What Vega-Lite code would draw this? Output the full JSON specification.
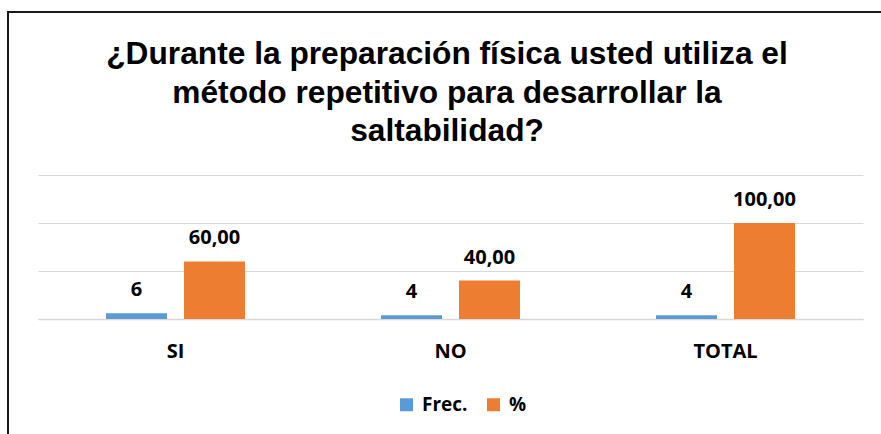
{
  "$schema": "https://vega.github.io/schema/vega-lite/v6.json",
  "autosize": {"type": "none"},
  "padding": {"left": 8, "top": 12, "right": 0, "bottom": 0},
  "width": 878,
  "height": 440,
  "background": "white",
  "title": {
    "text": ["¿Durante la preparación física usted utiliza el", "método repetitivo para desarrollar la", "saltabilidad?"],
    "anchor": "middle",
    "frame": "group",
    "offset": -136,
    "font": "Liberation Sans",
    "fontSize": 31.7,
    "fontWeight": "bold",
    "color": "#000000",
    "lineHeight": 38.5
  },
  "data": {
    "values": [
      {"categoria": "SI", "serie": "Frec.", "valor": 6},
      {"categoria": "SI", "serie": "%", "valor": 60},
      {"categoria": "NO", "serie": "Frec.", "valor": 4},
      {"categoria": "NO", "serie": "%", "valor": 40},
      {"categoria": "TOTAL", "serie": "Frec.", "valor": 4},
      {"categoria": "TOTAL", "serie": "%", "valor": 100}
    ]
  },
  "encoding": {
    "x": {
      "field": "categoria",
      "type": "nominal",
      "sort": ["SI", "NO", "TOTAL"],
      "scale": {"type": "band", "range": [30, 855], "paddingInner": 0, "paddingOuter": 0},
      "axis": {
        "title": null,
        "orient": "bottom",
        "offset": -133,
        "labelAngle": 0,
        "labelFont": "Open Sans",
        "labelFontSize": 20,
        "labelFontWeight": "bold",
        "labelColor": "#000000",
        "labelPadding": 22,
        "ticks": false,
        "domain": true,
        "domainColor": "#D9D9D9",
        "domainWidth": 1.5,
        "grid": false
      }
    },
    "xOffset": {
      "field": "serie",
      "type": "nominal",
      "sort": ["Frec.", "%"],
      "scale": {"domain": ["Frec.", "%"], "paddingInner": 0.218, "paddingOuter": 0.872}
    },
    "y": {
      "field": "valor",
      "type": "quantitative",
      "scale": {"domain": [0, 150], "range": [307, 163], "nice": false, "zero": true},
      "axis": {
        "title": null,
        "labels": false,
        "ticks": false,
        "domain": false,
        "grid": true,
        "gridColor": "#D9D9D9",
        "gridWidth": 1.2,
        "values": [0, 50, 100, 150]
      }
    }
  },
  "layer": [
    {
      "mark": {"type": "bar"},
      "encoding": {
        "color": {
          "field": "serie",
          "type": "nominal",
          "sort": ["Frec.", "%"],
          "scale": {"domain": ["Frec.", "%"], "range": ["#5B9BD5", "#ED7D31"]},
          "legend": {
            "title": null,
            "orient": "none",
            "direction": "horizontal",
            "legendX": 389,
            "legendY": 383,
            "symbolType": "square",
            "symbolSize": 169,
            "symbolStrokeWidth": 0,
            "labelFont": "Open Sans",
            "labelFontSize": 19,
            "labelFontWeight": "bold",
            "labelColor": "#000000",
            "labelOffset": 6,
            "columnPadding": 16,
            "padding": 0
          }
        }
      }
    },
    {
      "transform": [{"filter": "datum.serie === 'Frec.'"}],
      "mark": {"type": "text", "baseline": "alphabetic", "dy": -17, "font": "Open Sans", "fontSize": 20, "fontWeight": "bold", "color": "#000000"},
      "encoding": {"text": {"field": "valor", "type": "quantitative", "format": "d"}}
    },
    {
      "transform": [{"filter": "datum.serie === '%'"}],
      "mark": {"type": "text", "baseline": "alphabetic", "dy": -17, "font": "Open Sans", "fontSize": 20, "fontWeight": "bold", "color": "#000000"},
      "encoding": {"text": {"field": "valor", "type": "quantitative", "format": ".2f"}}
    }
  ],
  "config": {
    "locale": {"number": {"decimal": ",", "thousands": ".", "grouping": [3], "currency": ["", " €"]}},
    "view": {"stroke": "#1a1a1a", "strokeWidth": 2}
  }
}
